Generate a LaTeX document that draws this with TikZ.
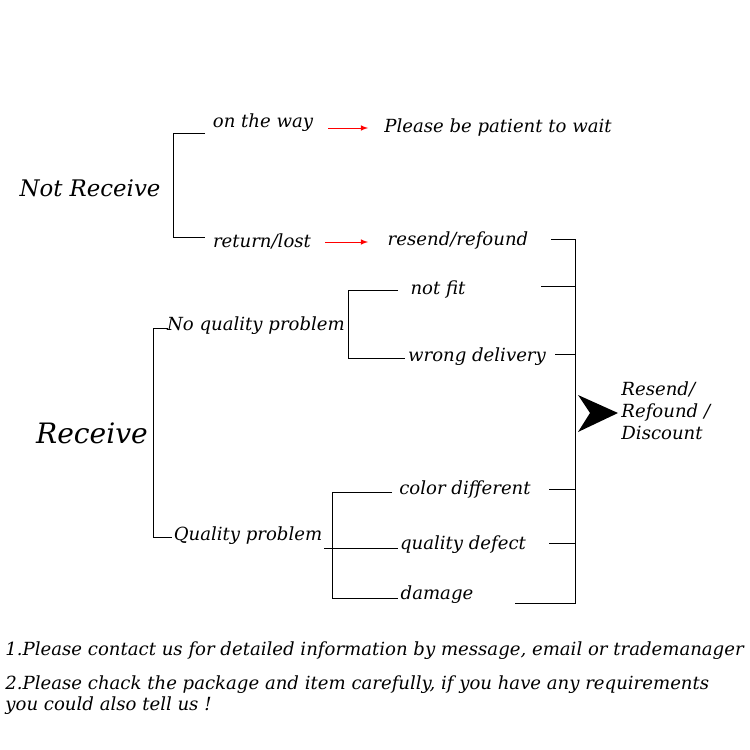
\documentclass[tikz,border=0pt]{standalone}
\usepackage{fontspec}
\setmainfont{DejaVu Serif}
\tikzset{
  lbl/.style={font=\itshape\fontsize{10.3}{12}\selectfont, inner sep=0pt},
  big/.style={font=\itshape\fontsize{13}{15}\selectfont, inner sep=0pt},
  redarrow/.style={red, -latex, thin},
}
\begin{document}
\begin{tikzpicture}[x=0.02cm, y=-0.02cm, line width=0.5pt]
	\useasboundingbox (0,0) rectangle (750,750);
	% Not Receive branch
	\node[big] (NR) at (90,188) {Not Receive};
	\coordinate (NRt) at (173,133);
	\coordinate (NRb) at (173,237);
	\node[lbl] (way) at (263,123) {on the way};
	\node[lbl] (lost) at (262,241) {return/lost};
	\node[lbl] (wait) at (498,128) {Please be patient to wait};
	\node[lbl] (resend) at (458,241) {resend/refound};
	\draw (205,133) -- (NRt) -- (NRb) -- (205,237);
	\coordinate (a1) at (328,128);
	\coordinate (a2) at (368,128);
	\coordinate (b1) at (325,242);
	\coordinate (b2) at (368,242);
	\draw[redarrow] (a1) -- (a2);
	\draw[redarrow] (b1) -- (b2);
	% Receive branch
	\node[big, font=\itshape\fontsize{16}{18}\selectfont] (R) at (92,433) {Receive};
	\draw (168,328) -- (153,328) -- (153,537) -- (172,537);
	\node[lbl] (noq) at (256,326) {No quality problem};
	\node[lbl] (q) at (248,536) {Quality problem};
	% No quality problem
	\draw (398,290) -- (348,290) -- (348,358) -- (405,358);
	\node[lbl] (fit) at (438,290) {not fit};
	\node[lbl] (wrong) at (477,357) {wrong delivery};
	% Quality problem
	\draw (392,492) -- (332,492) -- (332,598) -- (398,598);
	\draw (324,548) -- (398,548);
	\node[lbl] (color) at (465,490) {color different};
	\node[lbl] (defect) at (463,545) {quality defect};
	\node[lbl] (damage) at (437,595) {damage};
	% Right bracket
	\draw (551,239) -- (575,239) -- (575,603) -- (515,603);
	\foreach \y/\x in {286/541, 354/555, 489/549, 543/549}
		\draw (\x,\y) -- (575,\y);
	\fill (578,395) -- (618,413) -- (578,432) -- (590,413) -- cycle;
	\node[lbl, align=left, anchor=west, font=\itshape\fontsize{10.3}{12.4}\selectfont] (result) at (621,411) {Resend/\\Refound /\\Discount};
	% Notes
	\node[lbl, anchor=west] (note1) at (5,651) {1.Please contact us for detailed information by message, email or trademanager};
	\node[lbl, anchor=west] (note2) at (5,685) {2.Please chack the package and item carefully, if you have any requirements};
	\node[lbl, anchor=west] (note3) at (5,706) {you could also tell us !};
\end{tikzpicture}
\end{document}
